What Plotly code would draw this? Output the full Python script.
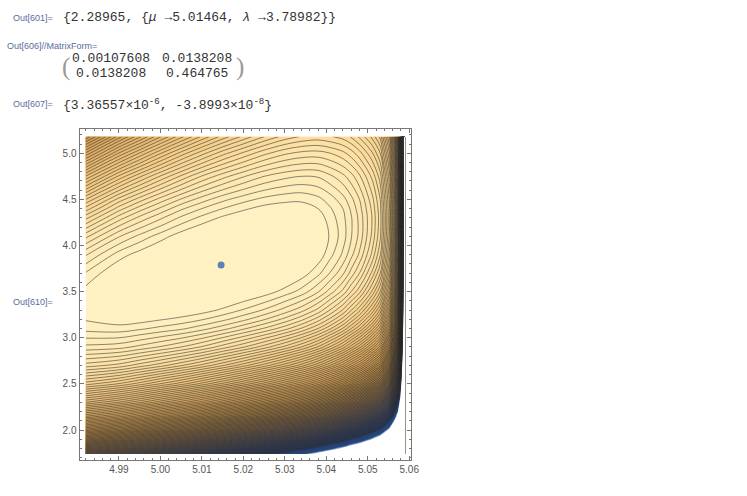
import plotly.graph_objects as go

mu_values = [4.982, 4.99, 4.995, 5.00, 5.005, 5.01, 5.015, 5.02, 5.025, 5.03, 5.034, 5.038, 5.041, 5.044, 5.046, 5.048, 5.051, 5.053,
             5.0553, 5.0565, 5.0573, 5.0579, 5.0583, 5.0586, 5.059]
lambda_values = [1.74, 1.8, 1.9, 2.0, 2.15, 2.3, 2.5, 2.7, 2.9, 3.1, 3.2, 3.3, 3.5, 3.7, 3.9,
                 4.1, 4.3, 4.4, 4.5, 4.75, 5.0, 5.18]

# Surface height, in contour-line counts
col_a = [64.1, 58.5, 50.0, 42.6, 32.9, 25.0, 16.6, 10.5, 6.3, 3.6, 2.9, 2.5, 2.6, 3.9, 6.1, 9.3, 13.3, 15.6, 18.0, 24.9, 32.8, 38.9]
col_b = [68.0, 62.1, 53.3, 45.6, 35.5, 27.1, 18.1, 11.4, 6.6, 3.4, 2.4, 1.7, 1.2, 1.9, 3.5, 6.1, 9.5, 11.5, 13.6, 19.8, 26.9, 32.5]
col_b2 = [70.6, 64.7, 55.8, 47.9, 37.5, 28.8, 19.5, 12.5, 7.3, 3.8, 2.5, 1.7, 0.8, 1.1, 2.5, 4.7, 7.7, 9.5, 11.5, 17.2, 23.9, 29.2]
col_c = [73.5, 67.4, 58.3, 50.2, 39.6, 30.7, 21.1, 13.6, 8.1, 4.3, 2.9, 1.8, 0.6, 0.6, 1.6, 3.5, 6.2, 7.8, 9.6, 14.9, 21.1, 26.1]
col_c2 = [76.2, 70.1, 60.9, 52.6, 41.7, 32.6, 22.6, 14.9, 9.0, 4.8, 3.3, 2.1, 0.5, 0.2, 0.8, 2.4, 4.8, 6.2, 7.9, 12.8, 18.6, 23.3]
col_d = [79.2, 73.0, 63.5, 55.1, 44.0, 34.6, 24.4, 16.3, 10.1, 5.6, 3.9, 2.5, 0.7, 0.1, 0.4, 1.6, 3.7, 5.0, 6.5, 10.9, 16.4, 20.8]
col_d2 = [82.2, 76.0, 66.4, 57.8, 46.5, 36.9, 26.3, 17.9, 11.5, 6.6, 4.7, 3.2, 1.1, 0.1, 0.1, 1.1, 2.8, 4.0, 5.3, 9.4, 14.4, 18.6]
col_e = [85.5, 79.1, 69.3, 60.6, 49.0, 39.2, 28.3, 19.6, 12.9, 7.8, 5.7, 4.1, 1.7, 0.4, 0.1, 0.7, 2.2, 3.2, 4.4, 8.1, 12.8, 16.7]
col_e2 = [88.6, 82.2, 72.4, 63.5, 51.7, 41.7, 30.5, 21.5, 14.5, 9.1, 6.9, 5.1, 2.4, 0.8, 0.25, 0.6, 1.8, 2.6, 3.7, 7.0, 11.3, 15.0]
col_f = [92.1, 85.6, 75.6, 66.6, 54.6, 44.3, 32.9, 23.6, 16.3, 10.6, 8.3, 6.4, 3.4, 1.5, 0.7, 0.7, 1.6, 2.4, 3.3, 6.3, 10.2, 13.6]
col_f2 = [95.0, 88.5, 78.3, 69.2, 57.1, 46.6, 35.0, 25.5, 18.0, 12.1, 9.7, 7.6, 4.4, 2.4, 1.3, 1.1, 1.8, 2.5, 3.2, 6.0, 9.7, 12.9]
col_g = [98.4, 91.7, 81.5, 72.3, 60.0, 49.4, 37.5, 27.9, 20.1, 14.0, 11.5, 9.3, 5.9, 3.7, 2.3, 2.0, 2.4, 3.0, 3.7, 6.1, 9.6, 12.6]
col_g2 = [101.4, 94.7, 84.4, 75.1, 62.7, 52.0, 40.0, 30.1, 22.2, 15.9, 13.3, 11.1, 7.5, 5.1, 3.7, 3.15, 3.5, 3.9, 4.5, 6.8, 10.0, 12.9]
col_h = [104.6, 97.8, 87.4, 78.1, 65.5, 54.7, 42.5, 32.5, 24.5, 18.1, 15.4, 13.1, 9.3, 6.8, 5.2, 4.5, 4.7, 5.0, 5.6, 7.7, 10.7, 13.4]
col_h2 = [107.3, 100.5, 90.1, 80.6, 68.0, 57.1, 44.8, 34.7, 26.5, 20.0, 17.3, 14.9, 11.0, 8.4, 6.7, 5.9, 5.9, 6.2, 6.7, 8.6, 11.5, 14.1]
col_i = [109.7, 102.8, 92.3, 82.9, 70.1, 59.2, 46.8, 36.7, 28.5, 21.9, 19.2, 16.7, 12.7, 10.0, 8.2, 7.3, 7.3, 7.6, 8.0, 9.8, 12.6, 15.2]
col_j = [114.4, 107.5, 97.0, 87.4, 74.6, 63.5, 51.0, 40.7, 32.3, 25.5, 22.7, 20.2, 16.1, 13.2, 11.2, 10.2, 10.0, 10.2, 10.6, 12.2, 14.8, 17.2]
col_k = [118.1, 111.2, 100.6, 91.0, 78.1, 67.0, 54.3, 43.9, 35.4, 28.6, 25.7, 23.2, 19.0, 16.0, 13.9, 12.8, 12.5, 12.7, 13.0, 14.5, 17.0, 19.3]
col_l = [125.8, 118.9, 108.2, 98.6, 85.6, 74.4, 61.7, 51.2, 42.6, 35.6, 32.7, 30.1, 25.8, 22.7, 20.6, 19.4, 19.0, 19.1, 19.4, 20.8, 23.2, 25.4]
col_m = [133.8, 126.8, 116.1, 106.5, 93.4, 82.2, 69.4, 58.8, 50.1, 43.1, 40.1, 37.5, 33.1, 30.0, 27.8, 26.5, 26.0, 26.1, 26.3, 27.6, 29.9, 32.1]
col_n = [140.8, 133.8, 123.1, 113.5, 100.4, 89.2, 76.4, 65.8, 57.1, 50.1, 47.1, 44.5, 40.1, 37.0, 34.8, 33.5, 33.0, 33.1, 33.3, 34.6, 36.9, 39.1]
col_o = [152.8, 145.8, 135.1, 125.5, 112.4, 101.2, 88.4, 77.8, 69.1, 62.1, 59.1, 56.5, 52.1, 49.0, 46.8, 45.5, 45.0, 45.1, 45.3, 46.6, 48.9, 51.1]
col_p = [171.8, 164.8, 154.1, 144.5, 131.4, 120.2, 107.4, 96.8, 88.1, 81.1, 78.1, 75.5, 71.1, 68.0, 65.8, 64.5, 64.0, 64.1, 64.3, 65.6, 67.9, 70.1]
col_q = [199.8, 192.8, 182.1, 172.5, 159.4, 148.2, 135.4, 124.8, 116.1, 109.1, 106.1, 103.5, 99.1, 96.0, 93.8, 92.5, 92.0, 92.1, 92.3, 93.6, 95.9, 98.1]
col_r = [407, 400, 390, 380, 367, 356, 343, 333, 324, 317, 314, 312, 307, 304, 302, 300, 300, 300, 300, 302, 304, 306]

columns = [col_a, col_b, col_b2, col_c, col_c2, col_d, col_d2, col_e, col_e2, col_f, col_f2, col_g, col_g2, col_h, col_h2,
           col_i, col_j, col_k, col_l, col_m, col_n, col_o, col_p, col_q, col_r]
z_rows = [list(r) for r in zip(*columns)]

fit_mu = [5.01464]
fit_lambda = [3.78982]

W, H = 747, 496
PAPER_W = 738
def px(v): return v / PAPER_W
def py(v): return 1 - v / H

fig = go.Figure()

shade = [
    [0.00, "#FFF1C1"], [0.08, "#FDE4A9"], [0.18, "#F4CC85"], [0.34, "#D8A55C"],
    [0.45, "#B48745"], [0.52, "#9A7642"], [0.63, "#7A6248"], [0.71, "#5E5656"],
    [0.82, "#3A4464"], [0.90, "#283C68"], [0.975, "#27467C"], [0.985, "#2F66A3"],
    [0.995, "#FFFFFF"], [1.00, "#FFFFFF"],
]
fig.add_trace(go.Contour(
    x=mu_values, y=lambda_values, z=z_rows,
    autocontour=False,
    contours=dict(start=3, end=97, size=1, coloring="fill", showlines=False),
    line=dict(width=0, smoothing=0),
    colorscale=shade, showscale=False, hoverinfo="skip",
))
fig.add_trace(go.Contour(
    x=mu_values, y=lambda_values, z=z_rows,
    autocontour=False,
    contours=dict(start=3, end=90, size=1, coloring="none"),
    line=dict(width=1, color="rgba(45,45,45,0.55)", smoothing=1),
    showscale=False, hoverinfo="skip",
))
fig.add_trace(go.Scatter(
    x=fit_mu, y=fit_lambda, mode="markers",
    marker=dict(size=7, color="#5E81B5"), hoverinfo="skip", showlegend=False,
))

axis_font = dict(family="Liberation Sans", size=10, color="#555555")
common = dict(showline=True, linecolor="#777777", linewidth=1, mirror="allticks",
              ticks="inside", tickcolor="#777777", ticklen=4, tickwidth=1,
              showgrid=False, zeroline=False, tickfont=axis_font)
fig.update_xaxes(range=[4.9805, 5.0603], dtick=0.01, tick0=5.0, tickformat=".2f",
                 domain=[px(79.5), px(410.5)],
                 minor=dict(dtick=0.002, ticks="inside", ticklen=2, tickcolor="#777777", showgrid=False),
                 **common)
fig.update_yaxes(range=[1.675, 5.263], dtick=0.5, tick0=2.0, tickformat=".1f",
                 domain=[py(460), py(129)],
                 minor=dict(dtick=0.1, ticks="inside", ticklen=2, tickcolor="#777777", showgrid=False),
                 **common)

label_font = dict(family="Liberation Sans", size=9, color="#5A6C9C")
mono = dict(family="Liberation Mono", size=13, color="#333333")

def note(x, y, text, font, anchor="left"):
    fig.add_annotation(xref="paper", yref="paper", x=px(x), y=py(y), text=text, showarrow=False,
                       xanchor=anchor, yanchor="middle", font=font, borderpad=0, borderwidth=0)

note(13, 18, "Out[601]=", label_font)
note(63, 18, "{2.28965, {<i>μ</i> →5.01464, <i>λ</i> →3.78982}}", mono)
note(7, 46, "Out[606]//MatrixForm=", label_font)
note(72, 59, "0.00107608", mono)
note(162, 59, "0.0138208", mono)
note(76, 74, "0.0138208", mono)
note(166, 74, "0.464765", mono)
paren = dict(family="Liberation Serif", size=25, color="#999999")
note(62, 67, "(", paren)
note(236, 67, ")", paren)
note(13, 104, "Out[607]=", label_font)
note(63, 104, "{3.36557×10<sup>-6</sup>, -3.8993×10<sup>-8</sup>}", mono)
note(13, 302, "Out[610]=", label_font)

fig.update_layout(width=W, height=H, margin=dict(l=0, r=0, t=0, b=0), showlegend=False,
                  paper_bgcolor="white", plot_bgcolor="white")
fig.write_html("out.html", default_width=W, default_height=H,
               config=dict(displayModeBar=False, responsive=False),
               post_script="document.body.style.margin='0';document.body.style.overflow='hidden';")
